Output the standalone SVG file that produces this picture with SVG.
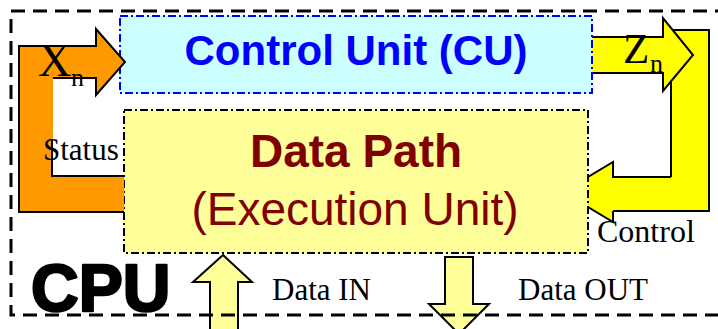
<svg xmlns="http://www.w3.org/2000/svg" width="718" height="329" viewBox="0 0 718 329">
  <style>
    .serif { font-family: "Liberation Serif", "Times New Roman", serif; fill: #000; }
    .sans { font-family: "Liberation Sans", Arial, sans-serif; }
    .edge { stroke: #000; stroke-width: 2; stroke-linejoin: miter; }
    .box-cu { fill: #CCFFFF; stroke: #0000FF; stroke-width: 2; stroke-dasharray: 8 3 2 3; }
    .box-dp { fill: #FFFF99; stroke: #000; stroke-width: 2; stroke-dasharray: 8 3 2 3; }
    .bus { fill: #FFFF99; stroke: #000; stroke-width: 2; }
  </style>

  <rect width="718" height="329" fill="#fff"/>

  <g id="connectors">
    <!-- Zn output: vertical return bar and Control arrow into the data path -->
    <path d="M671,30 H709 V211 H613 V222 L563,192 L613,162 V177 H671 Z" fill="#FFFF00" stroke="none"/>
    <path class="edge" fill="none" d="M671,177 V30 H709 V211 H640 M613,211 V222 L563,192 L613,162 V177 H671"/>
    <path class="edge" fill="none" d="M613,211 H640"/>
    <path class="edge" fill="#FFFF00" d="M585,37 H663 V18 L693,55 L663,91 V73 H585 Z"/>

    <!-- Data bus arrows -->
    <path class="bus" d="M223,255 L252,282 H238 V340 H210 V282 H193 Z"/>
    <path class="bus" d="M445,257 H473 V304 H489 L459,334 L429,304 H445 Z"/>
  </g>

  <g id="cu">
    <rect class="box-cu" x="120" y="16" width="472" height="77"/>
    <text class="sans" x="356" y="65" font-size="42" font-weight="bold" fill="#0000FF" text-anchor="middle">Control Unit (CU)</text>
  </g>

  <g id="datapath">
    <rect class="box-dp" x="124" y="110" width="464" height="143"/>
    <text class="sans" x="356" y="167" font-size="46" font-weight="bold" fill="#800000" text-anchor="middle">Data Path</text>
    <text class="sans" x="355" y="225" font-size="46" fill="#800000" text-anchor="middle">(Execution Unit)</text>
  </g>

  <g id="status-loop">
    <!-- Status out of the data path, fed back as Xn into the control unit -->
    <path d="M19,46 H96 V29 L125,62 L96,95 V78 H53 V176 H124 V212 H19 Z" fill="#FF9900" stroke="none"/>
    <path class="edge" fill="none" d="M53,78 H96 V95 L125,62 L96,29 V46 H19 V212 H124 M124,176 H52 V140"/>
  </g>

  <g id="labels">
    <text class="serif" x="38" y="76" font-size="46">X</text>
    <text class="serif" x="71" y="86" font-size="26">n</text>
    <text class="serif" x="623" y="63" font-size="43">Z</text>
    <text class="serif" x="650" y="72" font-size="26">n</text>
    <text class="serif" x="43" y="160" font-size="31">Status</text>
    <text class="serif" x="597" y="242" font-size="32">Control</text>
    <text class="serif" x="272" y="300" font-size="31">Data IN</text>
    <text class="serif" x="518" y="300" font-size="31">Data OUT</text>
  </g>

  <g id="cpu">
    <rect x="11" y="11" width="730" height="304" fill="none" stroke="#000" stroke-width="3" stroke-dasharray="14 8"/>
    <text class="sans" x="31" y="311" font-size="66" font-weight="bold" fill="#000" stroke="#000" stroke-width="2.5" stroke-linejoin="round">CPU</text>
  </g>
</svg>
